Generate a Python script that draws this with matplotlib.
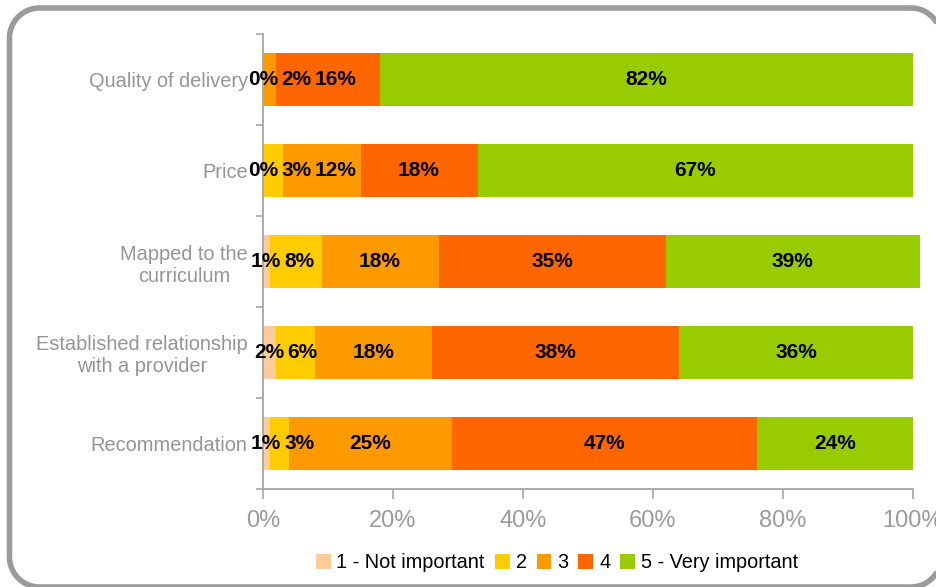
import numpy as np
import matplotlib
matplotlib.use("Agg")
import matplotlib.pyplot as plt
from matplotlib.patches import PathPatch, Patch
from matplotlib.path import Path
from matplotlib.transforms import Affine2D
from matplotlib import font_manager

# Survey responses: importance of each factor (percent of respondents)
categories = [
    "Quality of delivery",
    "Price",
    "Mapped to the\ncurriculum",
    "Established relationship\nwith a provider",
    "Recommendation",
]
levels = ["1 - Not important", "2", "3", "4", "5 - Very important"]
not_important = [np.nan, 0, 1, 2, 1]
level_2 = [0, 3, 8, 6, 3]
level_3 = [2, 12, 18, 18, 25]
level_4 = [16, 18, 35, 38, 47]
very_important = [82, 67, 39, 36, 24]
xticks = [0, 20, 40, 60, 80, 100]
xtick_labels = ["0%", "20%", "40%", "60%", "80%", "100%"]

colors = ["#FFCC99", "#FFCC00", "#FF9900", "#FF6600", "#99CC00"]
series = [not_important, level_2, level_3, level_4, very_important]

names = {f.name for f in font_manager.fontManager.ttflist}
base_font = "Liberation Sans" if "Liberation Sans" in names else "DejaVu Sans"
plt.rcParams["font.family"] = [base_font]

W, H = 936, 587
fig = plt.figure(figsize=(W / 100, H / 100), dpi=100)
fig.patch.set_facecolor("white")


def rounded_rect(left, top, right, bottom, r, n=24):
    """Closed rounded-rectangle outline in pixel units (y measured from the top)."""
    pts = []
    corners = [(right - r, top + r, -90, 0), (right - r, bottom - r, 0, 90),
               (left + r, bottom - r, 90, 180), (left + r, top + r, 180, 270)]
    for cx, cy, a0, a1 in corners:
        a = np.radians(np.linspace(a0, a1, n))
        pts.extend(zip(cx + r * np.cos(a), cy + r * np.sin(a)))
    pts.append(pts[0])
    pts = np.array(pts)
    pts[:, 1] = H - pts[:, 1]
    return Path(pts)


# rounded frame around the chart (running off the right and bottom edges)
frame = PathPatch(rounded_rect(9.5, 8.0, 941.0, 587.0, 30),
                  transform=Affine2D().scale(1 / W, 1 / H) + fig.transFigure,
                  facecolor="none", edgecolor="#9B9B9B", linewidth=4.0, clip_on=False)
fig.patches.append(frame)

ax = fig.add_axes([263 / W, (H - 489) / H, (913 - 263) / W, (489 - 34) / H])
ax.set_facecolor("none")

y = np.arange(len(categories))
left = np.zeros(len(categories))
label_texts = [[] for _ in categories]
for vals, col in zip(series, colors):
    v = np.array(vals, dtype=float)
    w = np.nan_to_num(v)
    ax.barh(y, w, left=left, height=0.58, color=col, edgecolor="none", clip_on=False)
    for i, val in enumerate(v):
        if not np.isnan(val):
            t = ax.text(left[i] + w[i] / 2, y[i], f"{int(val)}%", ha="center", va="center",
                        fontsize=15, fontweight="bold", color="black")
            label_texts[i].append(t)
    left += w

ax.set_xlim(0, 100)
ax.set_ylim(len(categories) - 0.5, -0.5)

for s in ["top", "right"]:
    ax.spines[s].set_visible(False)
for s in ["left", "bottom"]:
    ax.spines[s].set_color("#A6A6A6")
    ax.spines[s].set_linewidth(1.3)

ax.set_xticks(xticks)
ax.set_xticklabels(xtick_labels)
ax.tick_params(axis="x", length=7, width=1.2, color="#A6A6A6", labelsize=17,
               labelcolor="#9B9B9B", pad=8)

ax.set_yticks(y)
ax.set_yticklabels(categories, multialignment="center")
ax.set_yticks(np.arange(-0.5, len(categories)), minor=True)
ax.tick_params(axis="y", which="major", length=0, labelsize=14.4, labelcolor="#959595", pad=11)
ax.tick_params(axis="y", which="minor", length=5, width=1.2, color="#A6A6A6")

# push overlapping value labels apart, left to right
fig.canvas.draw()
renderer = fig.canvas.get_renderer()
gap = 3
for row in label_texts:
    prev_right = None
    for t in row:
        bb = t.get_window_extent(renderer)
        cx = (bb.x0 + bb.x1) / 2
        half = bb.width / 2
        if prev_right is not None and cx - half < prev_right + gap:
            cx = prev_right + gap + half
            xd, yd = ax.transData.inverted().transform((cx, (bb.y0 + bb.y1) / 2))
            t.set_x(xd)
        prev_right = cx + half

handles = [Patch(facecolor=c, edgecolor="none") for c in colors]
fig.legend(handles, levels, loc="center", bbox_to_anchor=(557 / W, 24 / H), ncol=5,
           frameon=False, handlelength=0.75, handleheight=0.75, handletextpad=0.3,
           columnspacing=0.5, prop={"size": 14.3})

fig.savefig("out.png", dpi=100, facecolor="white")
